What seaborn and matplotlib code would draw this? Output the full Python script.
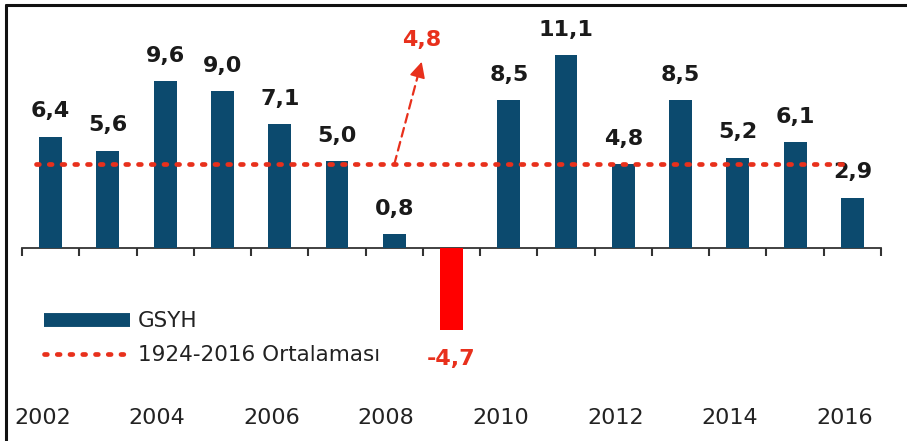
import matplotlib
matplotlib.use("Agg")
import matplotlib.pyplot as plt
from matplotlib.lines import Line2D
import matplotlib.transforms as mtransforms
import seaborn as sns
import numpy as np
import pandas as pd

years = [str(y) for y in range(2002, 2017)]
gdp = [6.4, 5.6, 9.6, 9.0, 7.1, 5.0, 0.8, -4.7, 8.5, 11.1, 4.8, 8.5, 5.2, 6.1, 2.9]
avg_value = 4.8
avg_label = "4,8"
series_label = "GSYH"
avg_legend = "1924-2016 Ortalaması"
tick_years = years[::2]

BLUE = "#0c4a6e"
RED_BAR = "#ff0000"
RED_TXT = "#e8301c"

sns.set_theme(style="white")
plt.rcParams['font.family'] = ['DejaVu Sans']

fig = plt.figure(figsize=(9.07, 4.41), dpi=100)
ax = fig.add_axes([22/907, (441-343.7)/441, 859/907, (343.7-30.5)/441])

df = pd.DataFrame({"year": years, "gdp": gdp})
colors = [RED_BAR if v < 0 else BLUE for v in gdp]
sns.barplot(data=df, x="year", y="gdp", hue="year", palette=colors,
            legend=False, width=0.4, ax=ax, saturation=1, linewidth=0,
            edgecolor="none")

ax.set_xlim(-0.5, len(years) - 0.5)
ax.set_ylim(-5.5, 12.5)
for s in ["top", "right", "left"]:
    ax.spines[s].set_visible(False)
ax.spines["bottom"].set_position(("data", 0))
ax.spines["bottom"].set_color("#333333")
ax.spines["bottom"].set_linewidth(1.3)
ax.spines["bottom"].set_zorder(0.5)
ax.set_yticks([])
ax.set_xticks(np.arange(-0.5, len(years), 1.0))
ax.set_xticklabels([])
ax.tick_params(axis="x", direction="out", length=6, width=1.5, color="#333333", bottom=True)
ax.set_xlabel("")
ax.set_ylabel("")

# value labels
for i, v in enumerate(gdp):
    if v >= 0:
        ax.annotate(f"{v:.1f}".replace(".", ","), (i, v), xytext=(0, 11),
                    textcoords="offset points", ha="center", va="bottom",
                    fontsize=16, fontweight="bold", color="#1a1a1a")
    else:
        ax.annotate(f"{v:.1f}".replace(".", ","), (i, v), xytext=(0, -14),
                    textcoords="offset points", ha="center", va="top",
                    fontsize=16, fontweight="bold", color=RED_TXT)

# average line
ax.plot([-0.25, 13.95], [avg_value, avg_value], color=RED_TXT, lw=3.4,
        linestyle=(0, (0.6, 2.1)), dash_capstyle="round", zorder=3)

# arrow with label
ax.annotate("", xy=(6.42, 10.0), xytext=(6.0, avg_value),
            arrowprops=dict(arrowstyle="-", linestyle=(0, (4, 2.5)), color=RED_TXT, lw=1.6,
                            shrinkA=0, shrinkB=0))
ax.annotate("", xy=(6.48, 10.7), xytext=(6.41, 9.9),
            arrowprops=dict(arrowstyle="-|>", color=RED_TXT, lw=1.2, mutation_scale=24,
                            shrinkA=0, shrinkB=0))
ax.text(6.48, 11.4, avg_label, ha="center", va="bottom", fontsize=16,
        fontweight="bold", color=RED_TXT)

# year tick labels
trans = mtransforms.blended_transform_factory(ax.transData, fig.transFigure)
for y in tick_years:
    ax.text(years.index(y) - 0.14, 1 - 418/441, y, transform=trans, ha="center",
            va="center", fontsize=16, color="#222222")

# legend
handles = [Line2D([], [], color=BLUE, lw=10, solid_capstyle="butt"),
           Line2D([], [], color=RED_TXT, lw=3.4, linestyle=(0, (0.6, 2.1)),
                  dash_capstyle="round")]
fig.legend(handles, [series_label, avg_legend], loc="upper left",
           bbox_to_anchor=(25/907, 1 - 292/441), frameon=False, fontsize=15.5,
           handlelength=4.0, handletextpad=0.35, labelspacing=0.65,
           labelcolor="#222222")

# frame (left and top)
fig.add_artist(Line2D([6/907, 6/907], [0, 1 - 5/441], transform=fig.transFigure,
                      color="#111111", lw=2.2))
fig.add_artist(Line2D([6/907, 1], [1 - 5/441, 1 - 5/441], transform=fig.transFigure,
                      color="#111111", lw=2.2))

fig.savefig("out.png", dpi=100)
